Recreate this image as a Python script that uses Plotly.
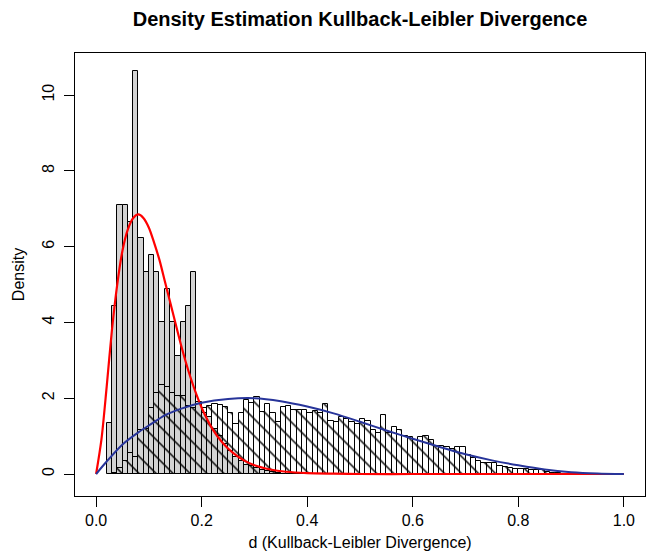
import plotly.graph_objects as go

# ---------------- data ----------------
bin_width = 0.01

# grey histogram (first bin starts at 0.02)
grey_first_bin = 0.02
grey_density = [1.35, 4.43, 7.10, 7.10, 6.64, 10.64, 6.22, 5.34, 5.78, 5.34,
                4.00, 4.88, 4.00, 3.11, 4.00, 4.44, 5.34, 1.90, 1.60, 1.50,
                1.20, 1.00, 0.80, 0.60, 0.45, 0.35, 0.25, 0.20, 0.15, 0.10,
                0.08, 0.05, 0.03]

# hatched histogram (first bin starts at 0.03)
hatch_first_bin = 0.03
hatch_density = [0.03, 0.15, 0.35, 0.55, 0.45, 1.16, 1.20,
                 1.75, 2.15, 2.35, 2.30, 2.15, 2.05, 2.05, 1.80, 1.75, 1.85,
                 1.75, 1.80, 1.85, 1.82, 1.76, 1.62, 1.32, 1.60, 1.95, 1.88,
                 2.04, 1.64, 1.86, 1.62, 1.38, 1.76, 1.79, 1.69, 1.69, 1.69,
                 1.62, 1.65, 1.62, 1.85, 1.41, 1.36, 1.50, 1.44, 1.36, 1.32,
                 1.44, 1.41, 1.16, 1.09, 1.56, 1.07, 1.25, 1.16, 1.00, 0.99,
                 0.90, 0.97, 1.00, 0.90, 0.74, 0.74, 0.72, 0.65, 0.72, 0.70,
                 0.50, 0.41, 0.35, 0.30, 0.30, 0.28, 0.21, 0.19, 0.16, 0.14,
                 0.12, 0.12, 0.11, 0.10, 0.10, 0.06, 0.03, 0.02]

# red density curve
red_x = [0.0, 0.01, 0.02, 0.03, 0.04, 0.05, 0.06, 0.07, 0.08, 0.09, 0.10,
         0.11, 0.12, 0.13, 0.14, 0.15, 0.16, 0.17, 0.18, 0.19, 0.20, 0.22,
         0.24, 0.26, 0.28, 0.30, 0.33, 0.36, 0.40, 0.45, 0.50, 0.60, 0.80, 1.0]
red_y = [0.0, 0.9, 2.3, 3.8, 5.0, 5.9, 6.45, 6.75, 6.85, 6.75, 6.5,
         6.1, 5.65, 5.1, 4.55, 4.0, 3.45, 2.95, 2.5, 2.1, 1.75, 1.2,
         0.82, 0.55, 0.36, 0.23, 0.12, 0.06, 0.025, 0.01, 0.0, 0.0, 0.0, 0.0]

# blue density curve
blue_x = [0.0, 0.02, 0.05, 0.08, 0.10, 0.13, 0.16, 0.20, 0.25, 0.30, 0.35,
          0.40, 0.45, 0.50, 0.55, 0.60, 0.65, 0.70, 0.75, 0.80, 0.85, 0.90,
          0.95, 1.0]
blue_y = [0.0, 0.33, 0.78, 1.10, 1.28, 1.55, 1.72, 1.88, 1.98, 2.0, 1.92,
          1.78, 1.60, 1.38, 1.15, 0.93, 0.72, 0.52, 0.36, 0.23, 0.12, 0.05,
          0.015, 0.0]

x_ticks = [0.0, 0.2, 0.4, 0.6, 0.8, 1.0]
x_ticktext = ["0.0", "0.2", "0.4", "0.6", "0.8", "1.0"]
y_ticks = [0, 2, 4, 6, 8, 10]
y_ticktext = ["0", "2", "4", "6", "8", "10"]

title_text = "Density Estimation Kullback-Leibler Divergence"
x_title = "d (Kullback-Leibler Divergence)"
y_title = "Density"

# ---------------- figure ----------------
grey_x = [grey_first_bin + bin_width * (i + 0.5) for i in range(len(grey_density))]
hatch_x = [hatch_first_bin + bin_width * (i + 0.5) for i in range(len(hatch_density))]

fig = go.Figure()
fig.add_trace(go.Bar(
    x=grey_x, y=grey_density, width=bin_width,
    marker=dict(color="#d3d3d3", line=dict(color="black", width=1)),
    hoverinfo="skip"))
fig.add_trace(go.Bar(
    x=hatch_x, y=hatch_density, width=bin_width,
    marker=dict(color="black", line=dict(color="black", width=1),
                pattern=dict(shape="\\", size=12, solidity=0.12, fillmode="replace")),
    hoverinfo="skip"))
fig.add_trace(go.Scatter(
    x=red_x, y=red_y, mode="lines",
    line=dict(color="#ff0000", width=2.2, shape="spline", smoothing=0.8)))
fig.add_trace(go.Scatter(
    x=blue_x, y=blue_y, mode="lines",
    line=dict(color="#27349a", width=2, shape="spline", smoothing=0.8)))

axis_common = dict(showgrid=False, zeroline=False, showline=True, linecolor="black",
                   linewidth=1, mirror=True, ticks="outside", ticklen=10,
                   tickcolor="black", tickwidth=1,
                   tickfont=dict(size=16, color="black"))

fig.update_xaxes(range=[-0.04, 1.04], tickvals=x_ticks, ticktext=x_ticktext,
                 title=dict(text=x_title, font=dict(size=16), standoff=8),
                 **axis_common)
fig.update_yaxes(range=[-0.58, 11.11], tickvals=y_ticks, ticktext=y_ticktext,
                 tickangle=-90, ticklabelstandoff=4,
                 title=dict(text=y_title, font=dict(size=16), standoff=10),
                 **axis_common)

fig.update_layout(
    width=647, height=553,
    margin=dict(l=75, r=2, t=53, b=57),
    barmode="overlay", bargap=0, showlegend=False,
    plot_bgcolor="white", paper_bgcolor="white",
    font=dict(family="Liberation Sans, Arial, sans-serif", size=16, color="black"),
    title=dict(text="<b>" + title_text + "</b>", x=0.5, xref="paper", xanchor="center",
               y=1 - 19 / 553, yref="container", yanchor="middle",
               font=dict(size=20, color="black")),
)

fig.write_html("out.html")
